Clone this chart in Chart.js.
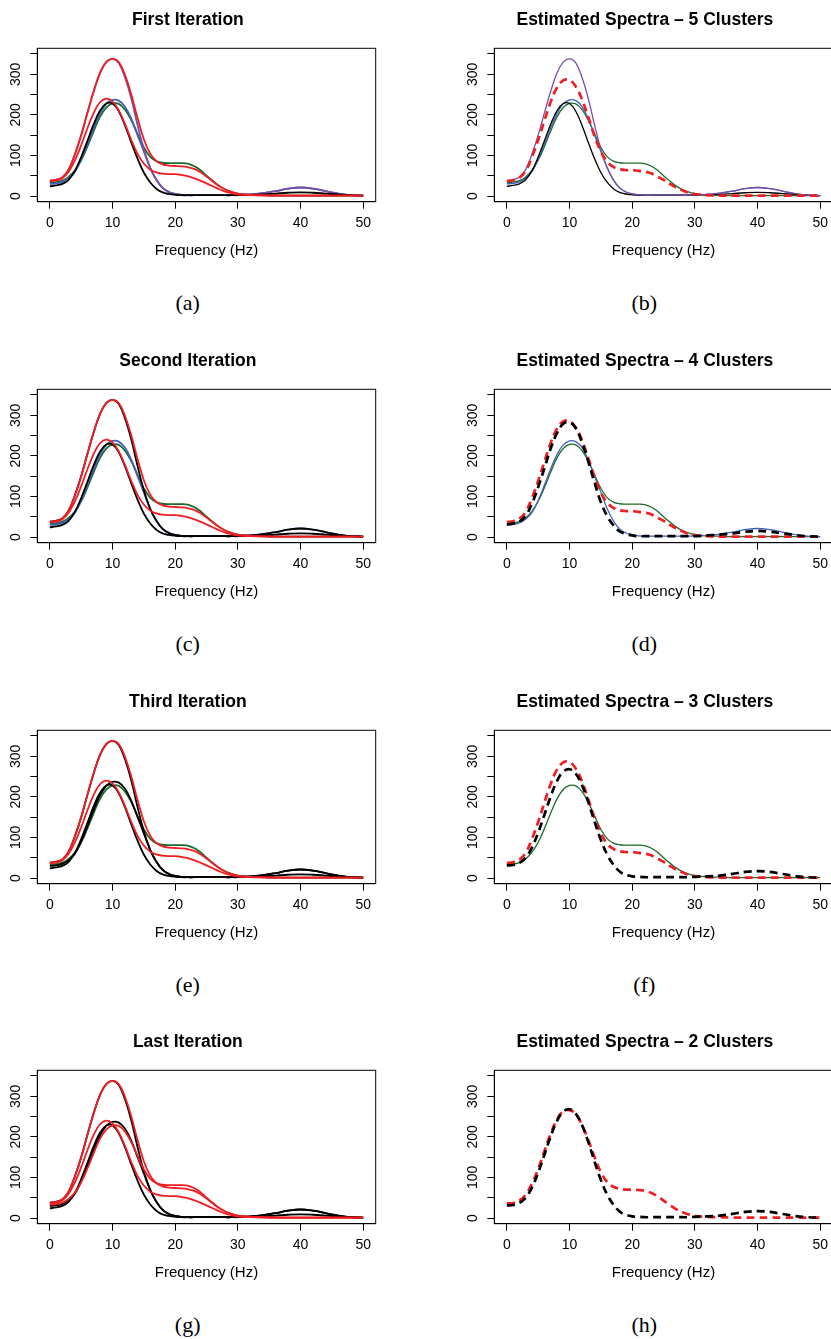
<!DOCTYPE html>
<html>
<head>
<meta charset="utf-8">
<script src="https://cdn.jsdelivr.net/npm/chart.js"></script>
<style>
  html, body { margin: 0; padding: 0; background: #fff; }
  #page { position: relative; width: 831px; height: 1339px; overflow: hidden; }
  canvas { position: absolute; }
  .cap { position: absolute; font-family: "Liberation Serif", serif; font-size: 22px; color: #000;
         transform: translate(-50%, -50%); white-space: nowrap; }
</style>
</head>
<body>
<div id="page"></div>
<script>
// frequency grid (Hz)
const freqHz = [0,1,2,3,4,5,6,7,8,9,10,11,12,13,14,15,16,17,18,19,20,21,22,23,24,25,26,27,28,29,30,
                32,34,36,38,40,42,44,46,48,50];
const xTicks = [0, 10, 20, 30, 40, 50];
const yTicks = [0, 50, 100, 150, 200, 250, 300, 350];

// individual spectra
const specK  = [24,26,30,40,62,96,136,177,210,228,228,209,174,132,92,58,34,18,9,5,3,2,2,2,2,2,2,2,2,2,2,
                3,4,6,8,9,8,6,4,2,1];
const specBl = [30,31,35,44,60,90,128,168,203,227,237,235,220,190,150,110,70,40,20,10,5,3,2,2,2,2,2,2,2,2,3,
                4,7,12,18,21,18,12,6,2,1];
const specG  = [33,34,38,47,63,88,122,160,195,218,228,227,213,187,153,120,97,86,82,81,81,81,80,74,64,50,37,25,16,10,6,
                3,2,1,1,1,1,1,1,1,1];
const specP  = [38,40,46,65,103,150,205,258,303,330,338,328,292,240,175,115,70,40,20,10,5,3,2,2,2,2,2,2,2,2,3,
                4,7,12,18,21,18,12,6,2,1];
const specR1 = [38,40,46,65,103,150,205,258,303,330,338,330,298,250,192,140,105,86,78,75,74,73,71,67,59,48,36,25,16,10,6,
                3,2,1,1,1,1,1,1,1,1];
const specR2 = [36,38,44,60,88,125,167,205,231,240,233,211,177,138,104,80,65,58,55,54,54,52,49,44,38,31,24,17,11,7,4,
                2,1,1,1,1,1,1,1,1,1];

// estimated cluster spectra
const estRed5   = [37,39,45,62,96,138,186,232,267,285,286,270,238,194,148,110,85,72,66,64,64,62,60,56,48,40,30,21,14,8,5,
                   2,1,1,1,1,1,1,1,1,1];
const estBlack4 = [31,33,38,52,82,123,170,218,256,279,283,268,233,186,134,86,52,29,14,8,4,2,2,2,2,2,2,2,2,2,2,
                   4,6,9,13,15,13,9,5,2,1];
const estBlack3 = [31,32,37,50,75,112,156,201,239,262,268,257,229,187,139,94,58,33,16,8,4,3,2,2,2,2,2,2,2,2,3,
                   4,6,10,15,17,15,10,5,2,1];
const estRed2   = [36,37,43,57,85,121,165,208,243,263,266,256,229,192,150,113,89,77,72,70,70,69,67,62,54,43,32,22,14,9,5,
                   3,2,1,1,1,1,1,1,1,1];

const RED = '#f01e23', BLACK = '#000000', BLUE = '#3f63b8', GREEN = '#1c6b2d', PURPLE = '#7a4fa6';

function series(vals, color, width, dashed) {
  return {
    data: vals.map((v, i) => ({ x: freqHz[i], y: v })),
    borderColor: color,
    borderWidth: width,
    borderDash: dashed ? [8, 5] : [],
    pointRadius: 0,
    tension: 0.4,
    fill: false
  };
}

const boxPlugin = {
  id: 'box',
  afterDraw(chart) {
    const { ctx, chartArea: a } = chart;
    ctx.save();
    ctx.strokeStyle = '#000';
    ctx.lineWidth = 1;
    ctx.strokeRect(a.left, a.top, a.right - a.left, a.bottom - a.top);
    ctx.restore();
  }
};

const panels = [
  { title: 'First Iteration', cap: '(a)', sets: [
      series(specR1, RED, 1.8), series(specR2, RED, 1.8), series(specK, BLACK, 1.8),
      series(specP, PURPLE, 1.8), series(specBl, BLUE, 1.8), series(specG, GREEN, 1.8)] },
  { title: 'Estimated Spectra \u2013 5 Clusters', cap: '(b)', sets: [
      series(estRed5, RED, 2.7, true), series(specP, PURPLE, 1.3), series(specK, BLACK, 1.3),
      series(specBl, BLUE, 1.3), series(specG, GREEN, 1.3)] },
  { title: 'Second Iteration', cap: '(c)', sets: [
      series(specR1, RED, 1.8), series(specR2, RED, 1.8), series(specP, BLACK, 1.8),
      series(specK, BLACK, 1.8), series(specBl, BLUE, 1.8), series(specG, GREEN, 1.8)] },
  { title: 'Estimated Spectra \u2013 4 Clusters', cap: '(d)', sets: [
      series(estBlack4, BLACK, 2.7, true), series(estRed5, RED, 2.7, true),
      series(specBl, BLUE, 1.3), series(specG, GREEN, 1.3)] },
  { title: 'Third Iteration', cap: '(e)', sets: [
      series(specR1, RED, 1.8), series(specR2, RED, 1.8), series(specP, BLACK, 1.8),
      series(specK, BLACK, 1.8), series(specBl, BLACK, 1.8), series(specG, GREEN, 1.8)] },
  { title: 'Estimated Spectra \u2013 3 Clusters', cap: '(f)', sets: [
      series(estBlack3, BLACK, 2.7, true), series(estRed5, RED, 2.7, true), series(specG, GREEN, 1.3)] },
  { title: 'Last Iteration', cap: '(g)', sets: [
      series(specR1, RED, 1.8), series(specR2, RED, 1.8), series(specG, RED, 1.8),
      series(specP, BLACK, 1.8), series(specK, BLACK, 1.8), series(specBl, BLACK, 1.8)] },
  { title: 'Estimated Spectra \u2013 2 Clusters', cap: '(h)', sets: [
      series(estBlack3, BLACK, 2.7, true), series(estRed2, RED, 2.7, true)] }
];

const rowTops = [0, 341, 682, 1022];
const colLefts = [0, 457];
const capX = [187.7, 644.3];
const W = 413, H = 265;
const page = document.getElementById('page');
const font = 'Liberation Sans, Arial, Helvetica, sans-serif';

panels.forEach((p, i) => {
  const row = Math.floor(i / 2), col = i % 2;
  const cv = document.createElement('canvas');
  cv.width = W; cv.height = H;
  cv.style.left = colLefts[col] + 'px';
  cv.style.top = rowTops[row] + 'px';
  page.appendChild(cv);

  const cap = document.createElement('div');
  cap.className = 'cap';
  cap.textContent = p.cap;
  cap.style.left = capX[col] + 'px';
  cap.style.top = (rowTops[row] + 303.3) + 'px';
  page.appendChild(cap);

  new Chart(cv, {
    type: 'line',
    data: { datasets: p.sets },
    plugins: [boxPlugin],
    options: {
      responsive: false,
      animation: false,
      devicePixelRatio: 1,
      layout: { padding: { left: 0, right: 37.3, top: 0, bottom: 3.3 } },
      plugins: {
        legend: { display: false },
        tooltip: { enabled: false },
        title: {
          display: true, text: p.title, color: '#000',
          font: { family: font, size: 17.5, weight: 'bold', lineHeight: 1.2 },
          padding: { top: 9.5, bottom: 17.8 }
        }
      },
      scales: {
        x: {
          type: 'linear', min: -2, max: 52,
          afterBuildTicks: s => { s.ticks = xTicks.map(v => ({ value: v })); },
          afterFit: s => { s.height = 60; },
          grid: { display: true, drawOnChartArea: false, drawTicks: true, tickLength: 7, color: '#000', lineWidth: 1 },
          border: { display: true, color: '#000' },
          ticks: { color: '#000', font: { family: font, size: 14 }, padding: 6.2, autoSkip: false, maxRotation: 0 },
          title: { display: true, text: 'Frequency (Hz)', color: '#000',
                   font: { family: font, size: 15, lineHeight: 1.2 }, padding: { top: 0, bottom: 2 } }
        },
        y: {
          type: 'linear', min: -14, max: 364,
          afterBuildTicks: s => { s.ticks = yTicks.map(v => ({ value: v })); },
          afterFit: s => { s.width = 37.3; },
          grid: { display: true, drawOnChartArea: false, drawTicks: true, tickLength: 7, color: '#000', lineWidth: 1 },
          border: { display: true, color: '#000' },
          ticks: { color: '#000', font: { family: font, size: 14 }, padding: 2.9, autoSkip: false,
                   minRotation: 90, maxRotation: 90, crossAlign: 'center',
                   callback: v => (v % 100 === 0 ? String(v) : '') }
        }
      }
    }
  });
});
</script>
</body>
</html>
